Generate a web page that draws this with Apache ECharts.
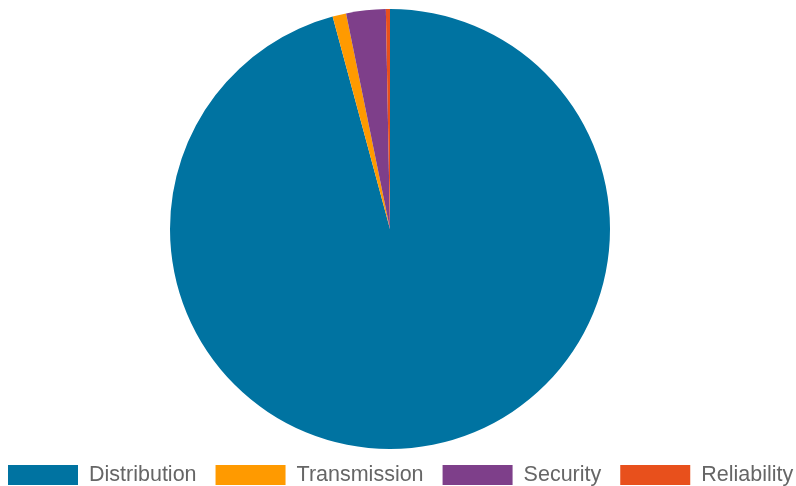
<!DOCTYPE html>
<html>
<head>
<meta charset="utf-8">
<script src="https://cdn.jsdelivr.net/npm/echarts@6/dist/echarts.min.js"></script>
<style>
  html, body { margin: 0; padding: 0; background: #fff; }
  #chart { width: 796px; height: 486px; }
</style>
</head>
<body>
<div id="chart"></div>
<script>
const categories = ['Distribution', 'Transmission', 'Security', 'Reliability'];
const values = [95.8, 1.0, 2.9, 0.3];
const colors = ['#0073a1', '#ff9a00', '#7e3f8a', '#e8501c'];

const chart = echarts.init(document.getElementById('chart'));

const option = {
  animation: false,
  color: colors,
  legend: {
    bottom: 0,
    left: 8,
    padding: 0,
    itemWidth: 70,
    itemHeight: 20,
    itemGap: 19,
    icon: 'rect',
    textStyle: {
      fontFamily: 'Liberation Sans, Arial, sans-serif',
      fontSize: 21.5,
      color: '#666',
      padding: [0, 0, 0, 6],
    },
    data: categories,
  },
  series: [
    {
      type: 'pie',
      center: [390, 229],
      radius: 220,
      startAngle: 90,
      clockwise: true,
      label: { show: false },
      labelLine: { show: false },
      itemStyle: { borderWidth: 0 },
      data: categories.map((name, i) => ({ name, value: values[i] })),
    },
  ],
};

chart.setOption(option);
</script>
</body>
</html>
